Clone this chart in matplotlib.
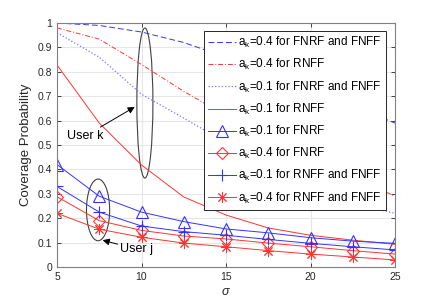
import numpy as np
import matplotlib
matplotlib.use("Agg")
import matplotlib.pyplot as plt
from matplotlib.patches import Ellipse

plt.rcParams['font.family'] = ['Liberation Sans', 'DejaVu Sans']
plt.rcParams['mathtext.fontset'] = 'custom'
plt.rcParams['mathtext.rm'] = 'Liberation Sans'
plt.rcParams['mathtext.it'] = 'Liberation Sans:italic'

sigma = [5, 7.5, 10, 12.5, 15, 17.5, 20, 22.5, 25]

# user k curves (no markers)
k04_fnrf_fnff = [1.0, 0.99, 0.963, 0.92, 0.86, 0.80, 0.73, 0.66, 0.59]
k04_rnff = [0.98, 0.934, 0.83, 0.72, 0.62, 0.53, 0.45, 0.37, 0.29]
k01_fnrf_fnff = [0.96, 0.86, 0.708, 0.61, 0.51, 0.40, 0.32, 0.26, 0.22]
k01_rnff = [0.828, 0.59, 0.418, 0.287, 0.213, 0.16, 0.13, 0.11, 0.093]

# user j curves (with markers)
j01_fnrf = [0.42, 0.29, 0.225, 0.186, 0.156, 0.14, 0.12, 0.106, 0.097]
j04_fnrf = [0.288, 0.19, 0.15, 0.127, 0.115, 0.098, 0.083, 0.067, 0.053]
j01_rnff_fnff = [0.33, 0.225, 0.168, 0.145, 0.13, 0.113, 0.097, 0.083, 0.07]
j04_rnff_fnff = [0.22, 0.155, 0.122, 0.098, 0.083, 0.067, 0.053, 0.041, 0.029]

blue = '#3333ff'
red = '#ff3333'

fig = plt.figure(figsize=(4.36, 3.03), dpi=100)
ax = fig.add_axes([57/436, 36/303, 338/436, 244/303])

lw = 0.7
ax.plot(sigma, k04_fnrf_fnff, '--', color=blue, lw=lw, dashes=(6, 3),
        label=r'a$_\mathregular{k}$=0.4 for FNRF and FNFF')
ax.plot(sigma, k04_rnff, '-.', color=red, lw=lw, dashes=(5, 2, 1, 2),
        label=r'a$_\mathregular{k}$=0.4 for RNFF')
ax.plot(sigma, k01_fnrf_fnff, ':', color='#7777ff', lw=0.9,
        label=r'a$_\mathregular{k}$=0.1 for FNRF and FNFF')
ax.plot(sigma, k01_rnff, '-', color=red, lw=lw,
        label=r'a$_\mathregular{k}$=0.1 for RNFF')
ax.plot(sigma, j01_fnrf, '-^', color=blue, lw=lw, ms=8, mfc='none', mew=0.8,
        label=r'a$_\mathregular{k}$=0.1 for FNRF')
ax.plot(sigma, j04_fnrf, '-D', color=red, lw=lw, ms=6.5, mfc='none', mew=0.8,
        label=r'a$_\mathregular{k}$=0.4 for FNRF')
ax.plot(sigma, j01_rnff_fnff, '-+', color=blue, lw=lw, ms=9, mew=0.8,
        label=r'a$_\mathregular{k}$=0.1 for RNFF and FNFF')
ax.plot(sigma, j04_rnff_fnff, '-', marker=(8, 2, 0), color=red, lw=lw, ms=8, mew=0.7,
        label=r'a$_\mathregular{k}$=0.4 for RNFF and FNFF')

ax.set_xlim(5, 25)
ax.set_ylim(0, 1)
ax.set_xticks([5, 10, 15, 20, 25])
ax.set_yticks(np.arange(0, 1.01, 0.1))
ax.set_yticklabels(['0', '0.1', '0.2', '0.3', '0.4', '0.5', '0.6', '0.7', '0.8', '0.9', '1'])
ax.grid(True, color='#e6e6e6', lw=0.8)
ax.set_axisbelow(True)
ax.tick_params(direction='in', top=True, right=True, labelsize=7.5,
               colors='#262626', length=3, width=0.6)
for s in ax.spines.values():
    s.set_color('#808080')
    s.set_linewidth(0.8)

ax.set_xlabel(r'$\it{\sigma}$', fontsize=9, color='#262626', labelpad=3)
ax.set_ylabel('Coverage Probability', fontsize=9.5, color='#262626', labelpad=4)

ax.add_patch(Ellipse((10.2, 0.672), 0.95, 0.615, fill=False, ec='#404040', lw=0.8))
ax.add_patch(Ellipse((7.43, 0.234), 1.37, 0.253, fill=False, ec='#404040', lw=0.8))

ax.annotate('User k', xy=(9.6, 0.656), xytext=(5.6, 0.525), fontsize=9,
            arrowprops=dict(arrowstyle='-|>', color='black', lw=0.7,
                            shrinkA=0, shrinkB=0, mutation_scale=10))
ax.annotate('User j', xy=(7.7, 0.11), xytext=(8.75, 0.06), fontsize=9,
            arrowprops=dict(arrowstyle='-|>', color='black', lw=0.7,
                            shrinkA=0, shrinkB=0, mutation_scale=10))

leg = ax.legend(loc='upper right', bbox_to_anchor=(0.973, 0.967), borderaxespad=0,
                fontsize=8.5, frameon=True, fancybox=False, edgecolor='#262626',
                framealpha=1, handlelength=2.4, handletextpad=0.15,
                labelspacing=0.6, borderpad=0.35)
leg.get_frame().set_linewidth(0.7)

fig.savefig('out.png', dpi=100)
